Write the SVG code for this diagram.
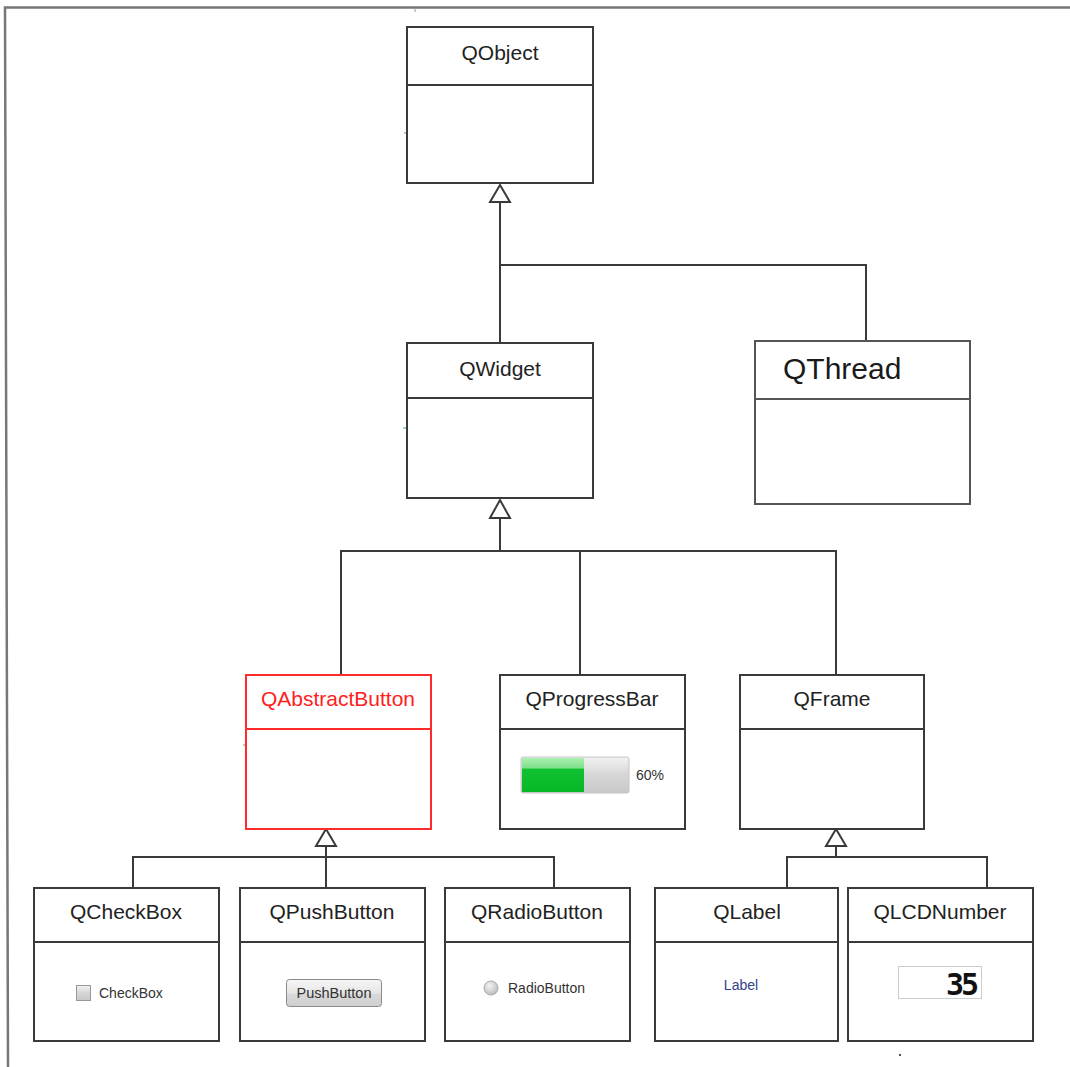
<svg xmlns="http://www.w3.org/2000/svg" width="1070" height="1067" viewBox="0 0 1070 1067">
<defs>
<style>
.box{fill:#fff;stroke:#3a3a3a;stroke-width:2}
.div{stroke:#3a3a3a;stroke-width:2}
.red .box,.red .div{stroke:#ff2a2a}
.title{font-family:"Liberation Sans",Arial,sans-serif;font-size:21px;fill:#222;text-anchor:middle}
.red .title{fill:#ff2020}
.small{font-family:"Liberation Sans",Arial,sans-serif;font-size:14px;fill:#333}
.conn{fill:none;stroke:#3a3a3a;stroke-width:2}
.tri{fill:#fff;stroke:#3a3a3a;stroke-width:2;stroke-linejoin:miter}
</style>
<linearGradient id="gGray" x1="0" y1="0" x2="0" y2="1">
<stop offset="0" stop-color="#f2f2f2"/><stop offset="0.5" stop-color="#d6d6d6"/><stop offset="1" stop-color="#c8c8c8"/>
</linearGradient>
<linearGradient id="gGreen" x1="0" y1="0" x2="0" y2="1">
<stop offset="0" stop-color="#a8f0b0"/><stop offset="0.3" stop-color="#7ee08a"/><stop offset="0.32" stop-color="#10c030"/><stop offset="1" stop-color="#06b828"/>
</linearGradient>
<linearGradient id="gBtn" x1="0" y1="0" x2="0" y2="1">
<stop offset="0" stop-color="#f6f6f6"/><stop offset="0.5" stop-color="#e6e6e6"/><stop offset="0.55" stop-color="#d8d8d8"/><stop offset="1" stop-color="#cfcfcf"/>
</linearGradient>
<radialGradient id="gRadio" cx="0.4" cy="0.35" r="0.7">
<stop offset="0" stop-color="#f4f4f4"/><stop offset="1" stop-color="#b8b8b8"/>
</radialGradient>
</defs>
<rect x="0" y="0" width="1070" height="1067" fill="#fff"/>
<!-- outer frame -->
<path d="M1070,7.5 H5 L8,1067" fill="none" stroke="#777" stroke-width="2.5"/>
<line x1="415" y1="8" x2="415" y2="12" stroke="#999" stroke-width="1"/>
<rect x="899" y="1054" width="2" height="2" fill="#555"/>
<g stroke="#5a5" stroke-width="1">
<line x1="404" y1="133" x2="407" y2="133"/>
<line x1="403" y1="428" x2="407" y2="428"/>
<line x1="243" y1="745" x2="246" y2="745"/>
</g>

<g id="connectors">
<path class="conn" d="M500,202 V343"/>
<path class="conn" d="M500,265 H866 V340"/>
<path class="tri" d="M500,185 L510,202 L490,202 Z"/>
<path class="conn" d="M500,518 V551"/>
<path class="conn" d="M341,675 V551 H836 V675"/>
<path class="conn" d="M580,551 V675"/>
<path class="tri" d="M500,500 L510,518 L490,518 Z"/>
<path class="conn" d="M326,846 V857"/>
<path class="conn" d="M133,887 V857 H554 V887"/>
<path class="conn" d="M326,857 V887"/>
<path class="tri" d="M326,829 L336,846 L316,846 Z"/>
<path class="conn" d="M836,846 V857"/>
<path class="conn" d="M787,887 V857 H987 V887"/>
<path class="tri" d="M836,829 L846,846 L826,846 Z"/>
</g>

<g id="QObject">
<rect class="box" x="407" y="27" width="186" height="156"/>
<line class="div" x1="407" y1="85" x2="593" y2="85"/>
<text class="title" x="500" y="60">QObject</text>
</g>

<g id="QWidget">
<rect class="box" x="407" y="343" width="186" height="155"/>
<line class="div" x1="407" y1="398" x2="593" y2="398"/>
<text class="title" x="500" y="376">QWidget</text>
</g>

<g id="QThread">
<rect class="box" x="755" y="341" width="215" height="163" style="stroke:#555"/>
<line class="div" x1="755" y1="399" x2="970" y2="399" style="stroke:#555"/>
<text x="783" y="379" font-family="'Liberation Sans',Arial,sans-serif" font-size="30" fill="#1a1a1a">QThread</text>
</g>

<g id="QAbstractButton" class="red">
<rect class="box" x="246" y="675" width="185" height="154"/>
<line class="div" x1="246" y1="729" x2="431" y2="729"/>
<text class="title" x="338" y="706">QAbstractButton</text>
</g>

<g id="QProgressBar">
<rect class="box" x="500" y="675" width="185" height="154"/>
<line class="div" x1="500" y1="729" x2="685" y2="729"/>
<text class="title" x="592" y="706">QProgressBar</text>
<rect x="521" y="757" width="108" height="36" rx="2" fill="url(#gGray)" stroke="#c4c4c4" stroke-width="1"/>
<rect x="522" y="758" width="62" height="34" fill="url(#gGreen)"/>
<text class="small" x="636" y="780" style="font-size:14px">60%</text>
</g>

<g id="QFrame">
<rect class="box" x="740" y="675" width="184" height="154"/>
<line class="div" x1="740" y1="729" x2="924" y2="729"/>
<text class="title" x="832" y="706">QFrame</text>
</g>

<g id="QCheckBox">
<rect class="box" x="34" y="888" width="185" height="153"/>
<line class="div" x1="34" y1="942" x2="219" y2="942"/>
<text class="title" x="126" y="919">QCheckBox</text>
<rect x="76.5" y="985.5" width="14" height="15" fill="url(#gGray)" stroke="#999" stroke-width="1"/>
<text class="small" x="99" y="998">CheckBox</text>
</g>

<g id="QPushButton">
<rect class="box" x="240" y="888" width="185" height="153"/>
<line class="div" x1="240" y1="942" x2="425" y2="942"/>
<text class="title" x="332" y="919">QPushButton</text>
<rect x="286.5" y="979.5" width="95" height="27" rx="3" fill="url(#gBtn)" stroke="#8a8a8a" stroke-width="1"/>
<text class="small" x="334" y="998" text-anchor="middle" style="font-size:14.5px">PushButton</text>
</g>

<g id="QRadioButton">
<rect class="box" x="445" y="888" width="185" height="153"/>
<line class="div" x1="445" y1="942" x2="630" y2="942"/>
<text class="title" x="537" y="919">QRadioButton</text>
<circle cx="491" cy="988" r="7" fill="url(#gRadio)" stroke="#aaa" stroke-width="1"/>
<text class="small" x="508" y="993">RadioButton</text>
</g>

<g id="QLabel">
<rect class="box" x="655" y="888" width="183" height="153"/>
<line class="div" x1="655" y1="942" x2="838" y2="942"/>
<text class="title" x="747" y="919">QLabel</text>
<text class="small" x="741" y="990" text-anchor="middle" style="fill:#33408a">Label</text>
</g>

<g id="QLCDNumber">
<rect class="box" x="848" y="888" width="185" height="153"/>
<line class="div" x1="848" y1="942" x2="1033" y2="942"/>
<text class="title" x="940" y="919">QLCDNumber</text>
<rect x="898.5" y="966.5" width="83" height="32" fill="#fff" stroke="#ccc" stroke-width="1"/>
<text x="976" y="995" text-anchor="end" font-family="'DejaVu Sans Mono','Liberation Mono',monospace" font-weight="bold" font-size="30" fill="#111" letter-spacing="-3">35</text>
</g>
</svg>
